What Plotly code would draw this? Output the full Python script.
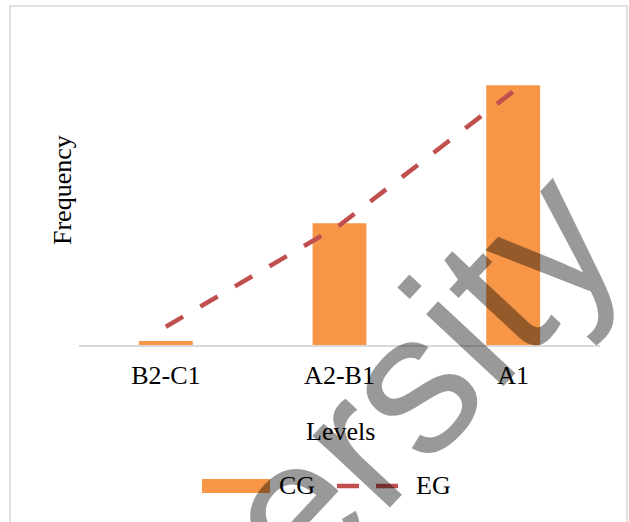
import plotly.graph_objects as go

# Proficiency levels and frequencies per group
levels = ["B2-C1", "A2-B1", "A1"]
cg_values = [1, 30, 64]        # control group (bars)
eg_values = [4.5, 29.5, 62.5]  # experimental group (dashed line)

BAR_COLOR = "#F79646"
LINE_COLOR = "#C0504D"
SERIF = "Liberation Serif, Times New Roman, serif"

# Plot-area geometry in pixels, used to place decorations in paper units
W, H = 629, 522
L, R, T, B = 79, 600, 61, 345


def px(xp):
    return (xp - L) / (R - L)


def py(yp):
    return (B - yp) / (B - T)


fig = go.Figure()
fig.add_trace(go.Bar(
    x=levels, y=cg_values, name="CG",
    marker=dict(color=BAR_COLOR, line=dict(width=0)),
    showlegend=False,
))
fig.add_trace(go.Scatter(
    x=levels, y=eg_values, name="EG", mode="lines",
    line=dict(color=LINE_COLOR, width=4.5, dash="20px,20px"),
    showlegend=False,
))

shapes = [
    # outer frame
    dict(type="rect", xref="paper", yref="paper",
         x0=px(10), x1=px(627), y0=py(6), y1=py(540),
         line=dict(color="#D9D9D9", width=1.5), fillcolor="rgba(0,0,0,0)", layer="below"),
    # legend keys
    dict(type="rect", xref="paper", yref="paper",
         x0=px(202), x1=px(270), y0=py(493), y1=py(479),
         line=dict(width=0), fillcolor=BAR_COLOR),
    dict(type="line", xref="paper", yref="paper",
         x0=px(337), x1=px(400), y0=py(486), y1=py(486),
         line=dict(color=LINE_COLOR, width=4.5, dash="22px,17px")),
]


def label(text, x, y, anchor="center", **kw):
    return dict(text=text, xref="paper", yref="paper", x=px(x), y=py(y),
                xanchor=anchor, yanchor="middle", showarrow=False,
                font=dict(family=SERIF, size=26, color="black"), **kw)


annotations = [
    label("Frequency", 62, 190, textangle=-90),
    label("Levels", 340, 431),
    label("CG", 277, 486, anchor="left"),
    label("EG", 414, 486, anchor="left"),
    # watermark
    dict(text="University", xref="paper", yref="paper", x=px(280), y=py(523),
         xanchor="center", yanchor="middle", textangle=-47, showarrow=False,
         font=dict(family="Liberation Sans, Arial, sans-serif", size=200,
                   color="rgba(0,0,0,0.4)")),
]

fig.update_layout(
    width=W, height=H,
    margin=dict(l=L, r=W - R, t=T, b=H - B),
    paper_bgcolor="white", plot_bgcolor="white",
    bargap=0.69,
    shapes=shapes,
    annotations=annotations,
    xaxis=dict(
        type="category", range=[-0.5, 2.5],
        showline=True, linecolor="#D9D9D9", linewidth=1.5,
        ticks="", showgrid=False, zeroline=False,
        tickfont=dict(family=SERIF, size=26, color="black"),
        ticklabelstandoff=6,
    ),
    yaxis=dict(
        range=[0, 70], showticklabels=False, showgrid=False,
        zeroline=False, showline=False, ticks="",
    ),
)

fig.write_html("out.html")
